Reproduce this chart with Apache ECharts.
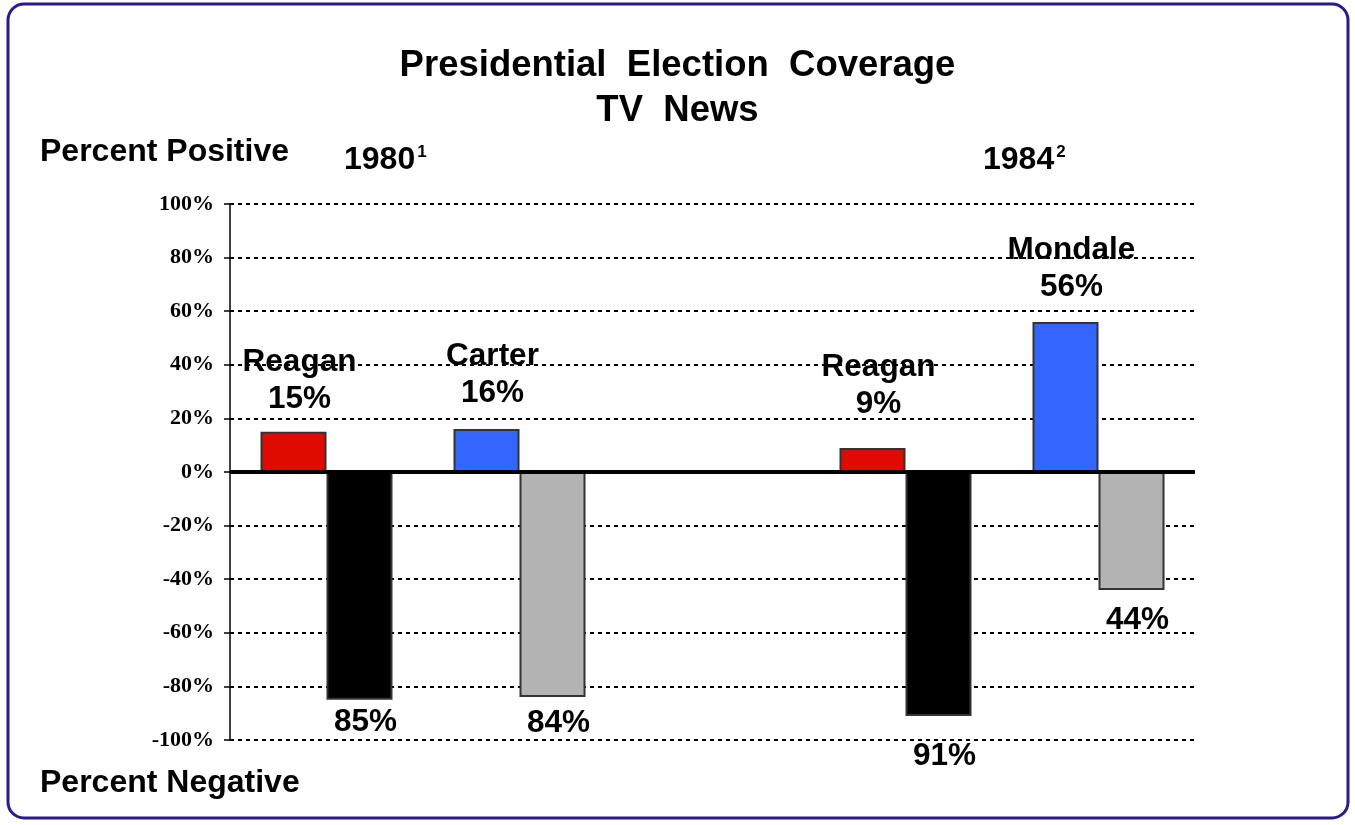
<!DOCTYPE html>
<html>
<head>
<meta charset="utf-8">
<title>Presidential Election Coverage</title>
<script src="https://cdn.jsdelivr.net/npm/echarts@6/dist/echarts.min.js"></script>
<style>
  html, body { margin: 0; padding: 0; background: #ffffff; }
  #chart { width: 1355px; height: 825px; }
</style>
</head>
<body>
<div id="chart"></div>
<script>
// Candidates by slot; the empty middle slot separates the two elections
const slots = ['1980 Reagan', '1980 Carter', 'gap', '1984 Reagan', '1984 Mondale'];
const candidateNames = ['Reagan', 'Carter', '', 'Reagan', 'Mondale'];
// Share of coverage that was positive / negative (percent)
const positiveShare = [15, 16, null, 9, 56];
const negativeShare = [85, 84, null, 91, 44];
// Bar colours: red for Reagan, blue for his opponent
const positiveColors = ['#e00b00', '#3366ff', null, '#e00b00', '#3366ff'];
const negativeColors = ['#000000', '#b3b3b3', null, '#000000', '#b3b3b3'];
// Y axis range
const yMin = -100, yMax = 100, yStep = 20;

const FONT = '"Liberation Sans", Arial, sans-serif';
const SERIF = '"Liberation Serif", "Times New Roman", serif';

// Small vertical nudges for individual value labels
const posLabelDist = [14, 17, null, 25, 16];
const negLabelDist = [7, 10, null, 24, 14];

const chart = echarts.init(document.getElementById('chart'), null, { renderer: 'canvas' });

const superscriptStyle = {
  y: { fontFamily: FONT, fontWeight: 'bold', fontSize: 32, fill: '#000', verticalAlign: 'top' },
  s: { fontFamily: FONT, fontWeight: 'bold', fontSize: 17, fill: '#000', verticalAlign: 'top', padding: [0, 0, 6, 2] }
};

const option = {
  animation: false,
  backgroundColor: '#ffffff',
  title: {
    text: 'Presidential  Election  Coverage\nTV  News',
    left: 'center',
    top: 38,
    textStyle: { fontFamily: FONT, fontWeight: 'bold', fontSize: 36.5, lineHeight: 45, color: '#000' }
  },
  grid: { left: 230, right: 160, top: 204, bottom: 85, containLabel: false },
  xAxis: {
    type: 'category',
    data: slots,
    axisLine: { show: false },
    axisTick: { show: false },
    axisLabel: { show: false },
    splitLine: { show: false }
  },
  yAxis: {
    type: 'value',
    min: yMin,
    max: yMax,
    interval: yStep,
    axisLine: { show: true, lineStyle: { color: '#000', width: 1.5 } },
    axisTick: { show: true, inside: false, length: 6, lineStyle: { color: '#000', width: 1.5 } },
    axisLabel: {
      fontFamily: SERIF, fontWeight: 'bold', fontSize: 22, color: '#000', margin: 16,
      formatter: v => v + '%'
    },
    splitLine: { show: true, lineStyle: { color: '#000', width: 2, type: [4, 4] } }
  },
  series: [
    {
      name: 'Positive',
      type: 'bar',
      barWidth: 66,
      barGap: '0%',
      z: 3,
      data: positiveShare.map((v, i) => v == null ? null : {
        value: v,
        itemStyle: { color: positiveColors[i] },
        label: { distance: posLabelDist[i] }
      }),
      itemStyle: { borderColor: '#333', borderWidth: 2 },
      label: {
        show: true,
        position: 'top',
        offset: [6, 0],
        fontFamily: FONT, fontWeight: 'bold', fontSize: 31.5, lineHeight: 37, color: '#000',
        formatter: p => candidateNames[p.dataIndex] + '\n' + p.value + '%'
      },
      markLine: {
        silent: true,
        symbol: 'none',
        label: { show: false },
        lineStyle: { color: '#000', width: 4, type: 'solid' },
        data: [{ yAxis: 0 }],
        z: 5
      }
    },
    {
      name: 'Negative',
      type: 'bar',
      barWidth: 66,
      barGap: '0%',
      z: 3,
      data: negativeShare.map((v, i) => v == null ? null : {
        value: -v,
        itemStyle: { color: negativeColors[i] },
        label: { distance: negLabelDist[i] }
      }),
      itemStyle: { borderColor: '#333', borderWidth: 2 },
      label: {
        show: true,
        position: 'bottom',
        offset: [6, 0],
        fontFamily: FONT, fontWeight: 'bold', fontSize: 31.5, color: '#000',
        formatter: p => Math.abs(p.value) + '%'
      }
    }
  ],
  graphic: [
    {
      type: 'rect',
      shape: { x: 8, y: 4, width: 1340, height: 814, r: 16 },
      style: { fill: 'none', stroke: '#2a1a8c', lineWidth: 3 },
      silent: true, z: 100
    },
    {
      type: 'text', left: 40, top: 136,
      style: { text: 'Percent Positive', fontFamily: FONT, fontWeight: 'bold', fontSize: 32, fill: '#000' }
    },
    {
      type: 'text', left: 40, top: 767,
      style: { text: 'Percent Negative', fontFamily: FONT, fontWeight: 'bold', fontSize: 32, fill: '#000' }
    },
    {
      type: 'text', left: 344, top: 144,
      style: { text: '{y|1980}{s|1}', rich: superscriptStyle }
    },
    {
      type: 'text', left: 983, top: 144,
      style: { text: '{y|1984}{s|2}', rich: superscriptStyle }
    }
  ]
};

chart.setOption(option);
</script>
</body>
</html>
